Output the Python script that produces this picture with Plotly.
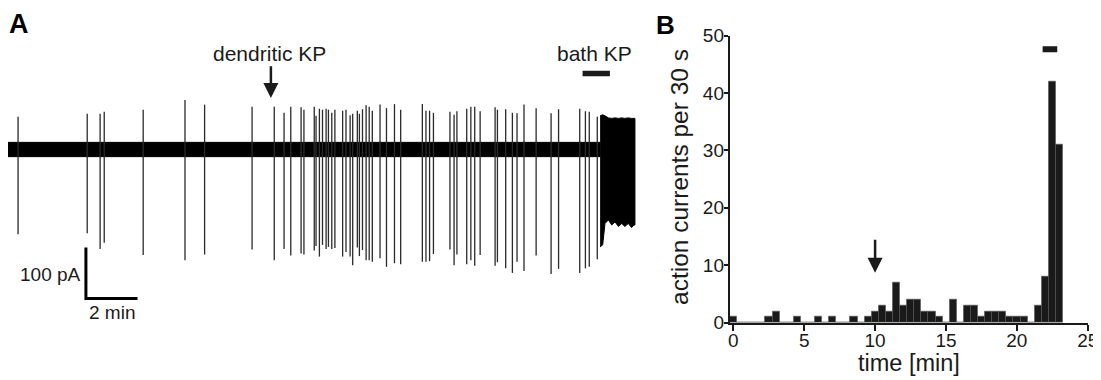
import plotly.graph_objects as go

FONT = "Liberation Sans, Arial, Helvetica, sans-serif"
INK = "#1a1a1a"

# ---------------- Panel A: recorded trace ----------------
# spike times (min) with positive / negative peak amplitudes (pA, relative to baseline)
spike_t = [0.39, 3.07, 3.57, 3.73, 5.24, 6.86, 7.62, 9.46, 10.32, 10.70,
           10.96, 11.36, 11.47, 11.87, 11.94, 12.07, 12.19, 12.33, 12.42, 12.55,
           12.67, 12.97, 13.10, 13.26, 13.36, 13.54, 13.62, 13.74, 13.88, 14.00,
           14.12, 14.42, 14.67, 14.98, 15.22, 16.06, 16.20, 16.34, 16.49, 17.13,
           17.29, 17.40, 17.78, 17.94, 18.09, 18.30, 18.88, 18.97, 19.29, 19.55,
           19.73, 20.00, 20.47, 21.05, 21.34, 22.16, 22.38, 22.53, 22.84]
spike_up = [64, 70, 70, 74, 78, 97, 88, 84, 84, 72,
            84, 83, 78, 84, 66, 80, 78, 80, 78, 72,
            78, 76, 78, 67, 70, 76, 70, 79, 87, 84,
            76, 88, 81, 89, 78, 89, 76, 76, 72, 74,
            68, 75, 80, 84, 84, 75, 83, 78, 79, 72,
            71, 88, 81, 71, 79, 80, 75, 74, 64]
spike_down = [-166, -164, -195, -183, -207, -217, -206, -196, -217, -195,
              -208, -204, -206, -198, -189, -210, -187, -195, -191, -195,
              -193, -210, -201, -210, -227, -192, -209, -197, -217, -217,
              -220, -213, -230, -223, -225, -220, -220, -219, -205, -196,
              -227, -206, -225, -217, -228, -207, -228, -221, -233, -242,
              -220, -238, -208, -244, -234, -242, -233, -230, -215]

# baseline noise envelope (pA)
noise_t = [0.0, 22.95]
noise_hi = [14, 14]
noise_lo = [-14, -14]

# bath-KP burst envelope (pA)
burst_t = [22.95, 23.05, 23.14, 23.27, 23.40, 23.53, 23.66, 23.79, 23.91, 24.04, 24.17, 24.26, 24.30]
burst_hi = [66, 68, 66, 62, 61, 62, 61, 62, 61, 62, 61, 62, 61]
burst_lo = [-191, -187, -145, -138, -148, -142, -151, -145, -151, -145, -153, -148, -148]

bathA_t = [22.27, 23.33]
bathA_level = 149
dendA_t = 10.19

scale_min = 2      # horizontal scale bar (min)
scale_pA = 100     # vertical scale bar (pA)

# ---------------- Panel B: histogram ----------------
bin_t = [0.0, 0.5, 1.0, 1.5, 2.0, 2.5, 3.0, 3.5, 4.0, 4.5, 5.0, 5.5, 6.0, 6.5, 7.0, 7.5,
         8.0, 8.5, 9.0, 9.5, 10.0, 10.5, 11.0, 11.5, 12.0, 12.5, 13.0, 13.5, 14.0, 14.5,
         15.0, 15.5, 16.0, 16.5, 17.0, 17.5, 18.0, 18.5, 19.0, 19.5, 20.0, 20.5, 21.0,
         21.5, 22.0, 22.5, 23.0]
counts = [1, 0, 0, 0, 0, 1, 2, 0, 0, 1, 0, 0, 1, 0, 1, 0,
          0, 1, 0, 1, 2, 3, 2, 7, 3, 4, 4, 2, 2, 1,
          0, 4, 0, 3, 3, 1, 2, 2, 2, 1, 1, 1, 0,
          3, 8, 42, 31]
bathB_t = [21.82, 22.85]
bathB_level = 47.6
dendB_t = 10

x_ticks = [0, 5, 10, 15, 20, 25]
y_ticks = [0, 10, 20, 30, 40, 50]

# ---------------- geometry (page pixels -> paper) ----------------
OFF = 8                      # page body margin
FW, FH = 1101 - OFF, 380 - OFF


def px_x(p):
    return (p - OFF) / FW


def px_y(p):
    return 1 - (p - OFF) / FH


PX_PER_MIN_A = 25.8
PX_PER_PA_A = 0.51
A_left, A_right, A_top, A_bot, A_base = 8, 640, 40, 310, 149.5

fig = go.Figure()

# noise band
fig.add_trace(go.Scatter(
    x=[noise_t[0], noise_t[1], noise_t[1], noise_t[0]],
    y=[noise_hi[0], noise_hi[1], noise_lo[1], noise_lo[0]],
    fill="toself", fillcolor="#000000", line=dict(width=1, color="#000000"),
    mode="lines", hoverinfo="skip", showlegend=False, xaxis="x", yaxis="y"))

# spikes
sx, sy = [], []
for t, u, d in zip(spike_t, spike_up, spike_down):
    sx += [t, t, None]
    sy += [d, u, None]
fig.add_trace(go.Scatter(x=sx, y=sy, mode="lines",
                         line=dict(width=1.3, color="#2a2a2a"),
                         hoverinfo="skip", showlegend=False, xaxis="x", yaxis="y"))

# burst
fig.add_trace(go.Scatter(
    x=burst_t + burst_t[::-1], y=burst_hi + burst_lo[::-1],
    fill="toself", fillcolor="#000000", line=dict(width=1, color="#000000"),
    mode="lines", hoverinfo="skip", showlegend=False, xaxis="x", yaxis="y"))

# bath bar A
fig.add_trace(go.Scatter(x=bathA_t, y=[bathA_level, bathA_level], mode="lines",
                         line=dict(width=5.5, color=INK), hoverinfo="skip",
                         showlegend=False, xaxis="x", yaxis="y"))

# scale bars
sb_t0 = 3.02
sb_y0 = -292
fig.add_trace(go.Scatter(
    x=[sb_t0, sb_t0, sb_t0 + scale_min],
    y=[sb_y0 + scale_pA, sb_y0, sb_y0],
    mode="lines", line=dict(width=3, color="#000000"),
    hoverinfo="skip", showlegend=False, xaxis="x", yaxis="y"))

# histogram
fig.add_trace(go.Bar(x=bin_t, y=counts, width=0.5,
                     marker=dict(color=INK, line=dict(width=0.6, color="#555555")),
                     showlegend=False, xaxis="x2", yaxis="y2"))
fig.add_trace(go.Scatter(x=bathB_t, y=[bathB_level, bathB_level], mode="lines",
                         line=dict(width=6, color=INK), hoverinfo="skip",
                         showlegend=False, xaxis="x2", yaxis="y2"))

yA_min = -(A_bot - A_base) / PX_PER_PA_A
yA_max = (A_base - A_top) / PX_PER_PA_A

B_left, B_right, B_top, B_bot = 729.8, 1087.7, 35.5, 322.7

fig.update_layout(
    template="none",
    width=FW, height=FH, margin=dict(l=0, r=0, t=0, b=0, pad=0, autoexpand=False),
    paper_bgcolor="white", plot_bgcolor="white",
    font=dict(family=FONT, color=INK, size=19),
    bargap=0,
    xaxis=dict(domain=[px_x(A_left), px_x(A_right)],
               range=[0, (A_right - A_left) / PX_PER_MIN_A],
               visible=False, anchor="y", automargin=False),
    yaxis=dict(domain=[px_y(A_bot), px_y(A_top)], range=[yA_min, yA_max],
               visible=False, anchor="x", automargin=False),
    xaxis2=dict(domain=[px_x(B_left), px_x(B_right)], range=[-0.25, 25],
                anchor="y2", showline=True, linewidth=2, linecolor=INK,
                ticks="outside", ticklen=6, tickwidth=2, tickcolor=INK,
                tickvals=x_ticks, tickfont=dict(size=19, family=FONT, color=INK),
                showgrid=False, zeroline=False, automargin=False),
    yaxis2=dict(domain=[px_y(B_bot), px_y(B_top)], range=[0, 50],
                anchor="x2", showline=True, linewidth=2, linecolor=INK,
                ticks="outside", ticklen=4, tickwidth=2, tickcolor=INK,
                tickvals=y_ticks, tickfont=dict(size=19, family=FONT, color=INK),
                showgrid=False, zeroline=False, automargin=False),
)

# pull tick labels closer to the axes
try:
    fig.update_layout(xaxis2_ticklabelstandoff=-7, yaxis2_ticklabelstandoff=-4)
except Exception:
    pass

ann = []
# panel letters
ann.append(dict(text="<b>A</b>", x=px_x(7), y=px_y(24.5), xref="paper", yref="paper",
                xanchor="left", yanchor="middle", showarrow=False,
                font=dict(size=27, family=FONT, color="#000")))
ann.append(dict(text="<b>B</b>", x=px_x(654), y=1.0, xref="paper", yref="paper",
                xanchor="left", yanchor="top", showarrow=False,
                font=dict(size=26, family=FONT, color="#000")))
# panel A labels
ann.append(dict(text="dendritic KP", x=dendA_t - 0.05, y=188, xref="x", yref="y",
                showarrow=False, xanchor="center", yanchor="middle",
                font=dict(size=21, family=FONT, color=INK)))
ann.append(dict(text="", x=dendA_t, y=101, ax=dendA_t, ay=166, xref="x", yref="y",
                axref="x", ayref="y", showarrow=True, arrowhead=2, arrowsize=1.2,
                arrowwidth=2.5, arrowcolor=INK, standoff=0, startstandoff=0))
ann.append(dict(text="bath KP", x=(bathA_t[0] + bathA_t[1]) / 2 - 0.05, y=188,
                xref="x", yref="y", showarrow=False, xanchor="center", yanchor="middle",
                font=dict(size=21, family=FONT, color=INK)))
ann.append(dict(text=f"{scale_pA} pA", x=sb_t0 - 0.12, y=sb_y0 + 47, xref="x", yref="y",
                showarrow=False, xanchor="right", yanchor="middle",
                font=dict(size=19, family=FONT, color=INK)))
ann.append(dict(text=f"{scale_min} min", x=sb_t0 + scale_min / 2, y=sb_y0 - 4,
                xref="x", yref="y", showarrow=False, xanchor="center", yanchor="top",
                font=dict(size=19, family=FONT, color=INK)))
# panel B labels
ann.append(dict(text="", x=dendB_t, y=8.7, ax=dendB_t, ay=14.7, xref="x2", yref="y2",
                axref="x2", ayref="y2", showarrow=True, arrowhead=2, arrowsize=1.2,
                arrowwidth=2.5, arrowcolor=INK, standoff=0, startstandoff=0))
ann.append(dict(text="action currents per 30 s", x=px_x(679), y=px_y(177),
                xref="paper", yref="paper", textangle=-90, showarrow=False,
                xanchor="center", yanchor="middle",
                font=dict(size=24.5, family=FONT, color=INK)))
ann.append(dict(text="time [min]", x=px_x((B_left + B_right) / 2), y=px_y(363),
                xref="paper", yref="paper", showarrow=False,
                xanchor="center", yanchor="middle",
                font=dict(size=23.5, family=FONT, color=INK)))
fig.update_layout(annotations=ann)

fig.write_html("out.html")
